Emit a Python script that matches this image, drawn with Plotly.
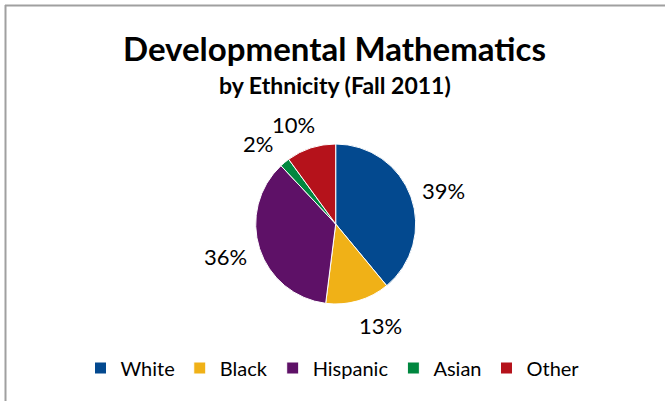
import plotly.graph_objects as go

categories = ["White", "Black", "Hispanic", "Asian", "Other"]
values = [39, 13, 36, 2, 10]
colors = ["#03498F", "#F0B117", "#5E1167", "#00873F", "#B5121B"]

# label anchor positions (pixel coords) for the percentage labels
label_pos = [(443, 190), (380, 325), (225, 256), (258, 143), (293, 124)]

W, H = 665, 401
fig = go.Figure()
fig.add_trace(go.Pie(
    labels=categories, values=values, sort=False, direction="clockwise", rotation=0,
    marker=dict(colors=colors, line=dict(color="white", width=1)),
    textinfo="none", hoverinfo="label+percent",
    domain=dict(x=[255.7 / W, 415.7 / W], y=[1 - 304 / H, 1 - 144 / H]),
))

font = "Lato, 'Open Sans', sans-serif"
annotations = [
    dict(text="<b>Developmental Mathematics</b>", x=334 / W, y=1 - 48 / H, xref="paper", yref="paper",
         showarrow=False, font=dict(size=33, family=font, color="black"), xanchor="center", yanchor="middle"),
    dict(text="<b>by Ethnicity (Fall 2011)</b>", x=335 / W, y=1 - 85 / H, xref="paper", yref="paper",
         showarrow=False, font=dict(size=23, family=font, color="black"), xanchor="center", yanchor="middle"),
]
for v, (px, py) in zip(values, label_pos):
    annotations.append(dict(text=f"{v}%", x=px / W, y=1 - py / H, xref="paper", yref="paper",
                            showarrow=False, font=dict(size=22, family=font, color="black"),
                            xanchor="center", yanchor="middle"))

fig.update_layout(
    width=W, height=H, margin=dict(l=0, r=0, t=0, b=0),
    paper_bgcolor="white", plot_bgcolor="white",
    annotations=annotations,
    showlegend=True,
    legend=dict(orientation="h", x=0.5, xanchor="center", y=1 - 368 / H, yanchor="middle",
                font=dict(size=20, family=font, color="black"), traceorder="normal"),
    shapes=[
        dict(type="line", xref="paper", yref="paper", x0=5 / W, x1=1, y0=1 - 5.5 / H, y1=1 - 5.5 / H,
             line=dict(color="#A0A0A0", width=2)),
        dict(type="line", xref="paper", yref="paper", x0=5.5 / W, x1=5.5 / W, y0=0, y1=1 - 5 / H,
             line=dict(color="#A0A0A0", width=2)),
    ],
)
fig.write_html("out.html")
